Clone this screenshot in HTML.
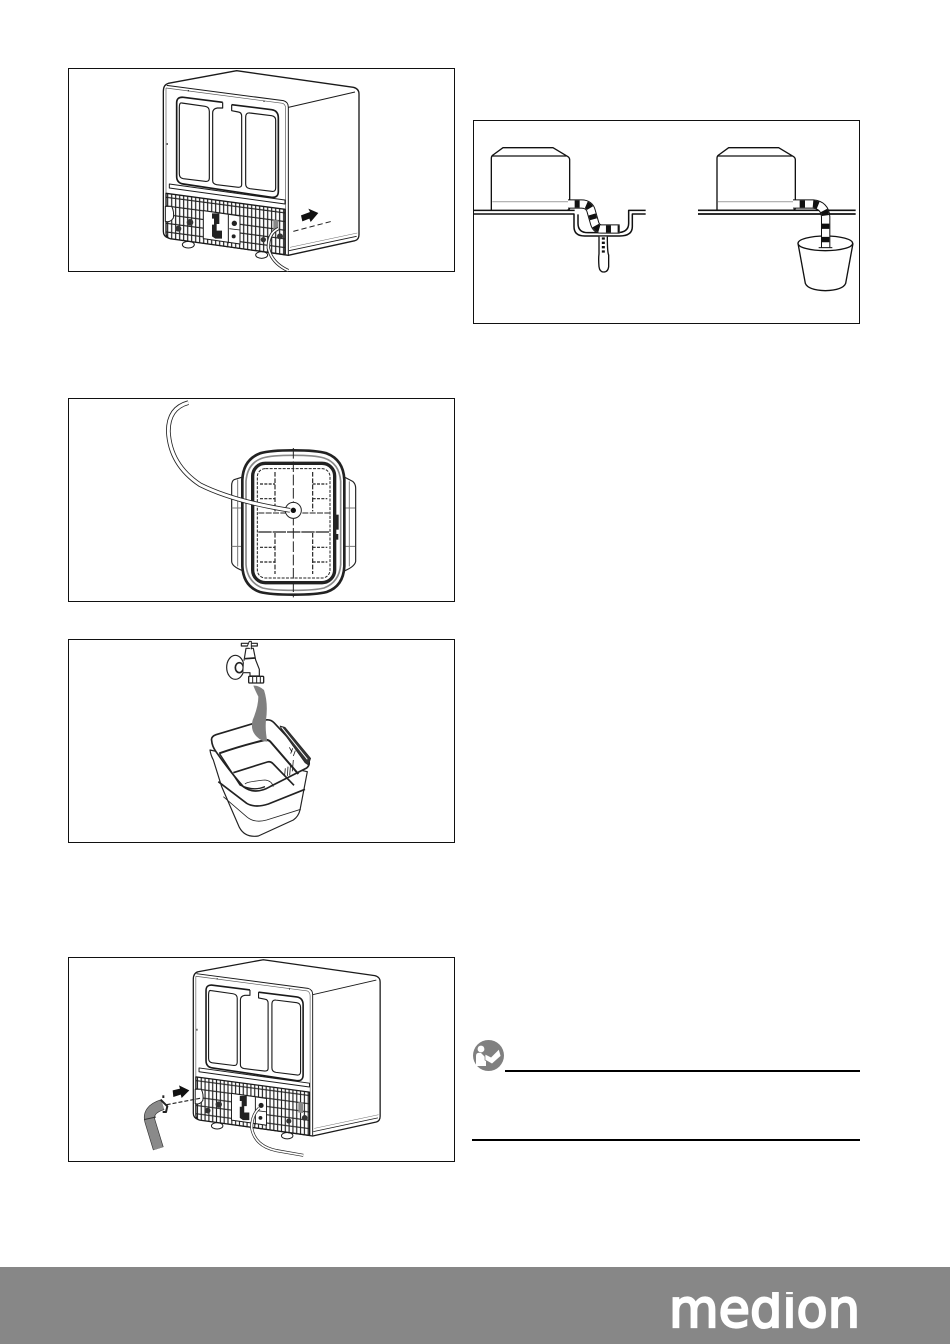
<!DOCTYPE html>
<html><head><meta charset="utf-8"><style>
html,body{margin:0;padding:0;background:#fff}
svg{display:block}
</style></head><body>
<svg width="950" height="1344" viewBox="0 0 950 1344" xmlns="http://www.w3.org/2000/svg">
<defs>
<clipPath id="logoclip"><rect x="660" y="1292" width="210" height="40"/></clipPath>
<pattern id="grid" width="24" height="26" patternUnits="userSpaceOnUse" patternTransform="translate(80 384) skewY(7.5)">
<rect width="24" height="26" fill="#fff"/>
<path d="M3 0V26M15 0V26" stroke="#1a1a1a" stroke-width="3.5"/>
<path d="M0 4H24" stroke="#222" stroke-width="3.5"/>
</pattern>
<g id="dryer" fill="none" stroke="#1a1a1a" stroke-linejoin="round">
<ellipse cx="145" cy="530" rx="18" ry="10" fill="#fff" stroke-width="3"/>
<ellipse cx="365" cy="561" rx="18" ry="10" fill="#fff" stroke-width="3"/>
<path d="M70 70Q70 50 85 46L290 8L640 58Q657 62 657 78V500Q657 515 645 518L445 562L85 510Q70 505 70 490Z" fill="#fff" stroke-width="4"/>
<path d="M80 52L430 98Q445 102 445 118V560" stroke-width="3"/>
<path d="M78 60L428 106Q437 110 437 122V558M78 60V505" stroke-width="2" stroke="#555"/>
<path d="M445 118L645 72" stroke-width="3"/>
<path d="M447 548L650 505" stroke-width="2.5"/>
<path d="M450 538L652 495" stroke-width="1.5" stroke="#666"/>
<path d="M248 103L130 88Q110 86 110 105V325Q110 345 130 348L395 388Q415 390 415 370V150Q415 128 395 125L275 110" stroke-width="5"/>
<path d="M125 105L195 115Q208 117 208 130V330Q208 342 195 340L130 332Q118 330 118 318V118Q118 103 125 105Z" stroke-width="3.5"/>
<path d="M248 103V120H232Q218 122 218 135V338Q218 348 230 350L295 358Q305 358 305 350V145Q305 133 295 132L275 128V110" stroke-width="3.5"/>
<path d="M330 135L395 143Q407 145 407 157V360Q407 372 395 370L330 362Q317 360 317 348V148Q317 133 330 135Z" stroke-width="3.5"/>
<path d="M88 348L435 396V408L88 360Z" stroke-width="3"/>
<path d="M78 376L435 424V560L90 512Q78 508 78 495Z" fill="url(#grid)" stroke-width="4"/>
<path d="M190 428L300 444V528L190 512Z" fill="#fff" stroke-width="3"/>
<path d="M265 440V526" stroke-width="3"/>
<path d="M216 436H238V468H230V488H246V512H226L216 505V470H222V452H216Z" fill="#222" stroke="none"/>
<circle cx="283" cy="466" r="8" fill="#222" stroke="none"/>
<circle cx="281" cy="505" r="6" fill="#222" stroke="none"/>
<path d="M268 482L300 486" stroke-width="2.5"/>
<circle cx="150" cy="463" r="10" fill="#333" stroke="none"/>
<circle cx="115" cy="482" r="9" fill="#333" stroke="none"/>
<path d="M76 415H95Q103 430 100 450Q90 465 76 460Z" fill="#fff" stroke-width="3"/>
<path d="M400 455L415 457V490L400 488Z" fill="#888" stroke="none"/>
<circle cx="420" cy="505" r="9" fill="#333" stroke="none"/>
<circle cx="370" cy="515" r="8" fill="#333" stroke="none"/>
<path d="M80 228h3" stroke-width="6"/>
<path d="M145 66v4M372 98v4" stroke-width="3"/>
</g>
</defs>

<!-- frames -->
<g fill="none" stroke="#111" stroke-width="1">
<rect x="68.5" y="68.5" width="386" height="203"/>
<rect x="473.5" y="120.5" width="386" height="203"/>
<rect x="68.5" y="398.5" width="386" height="203"/>
<rect x="68.5" y="639.5" width="386" height="203"/>
<rect x="68.5" y="957.5" width="386" height="204"/>
</g>

<!-- panel 1 -->
<g transform="translate(140 68) scale(.33333)">
<use href="#dryer"/>
<path d="M483 442L510 432L505 422L535 435L512 462L508 452L487 460Z" fill="#111"/>
<path d="M460 490L575 460" stroke="#222" stroke-width="3" stroke-dasharray="16 9" fill="none"/>
<path d="M415 482Q385 495 385 540Q395 585 445 608" fill="none" stroke="#222" stroke-width="10"/>
<path d="M415 482Q385 495 385 540Q395 585 445 608" fill="none" stroke="#fff" stroke-width="5"/>
</g>

<!-- panel 2 -->
<g transform="translate(473 130) scale(.33333)" fill="none" stroke="#111" stroke-linejoin="round">
<g id="mach2">
<path d="M55 240V85Q55 78 60 75L90 53H240L285 80Q290 83 290 90V232Q290 240 283 240" fill="#fff" stroke-width="4"/>
<path d="M58 78H280" stroke-width="3.5"/>
<path d="M58 215H288" stroke="#aaa" stroke-width="3.5"/>
</g>
<path d="M3 241H305M3 252H303V290Q303 318 335 318H440Q478 318 478 290V252H518M315 253V280Q315 308 345 308H430Q467 308 467 280V241H518" stroke-width="4.5"/>
<path d="M378 320V372Q376 385 378 410Q380 426 392 426Q405 426 407 410V375Q403 368 403 320" fill="#fff" stroke-width="4"/>
<path d="M391 322V372" stroke-width="9" stroke-dasharray="7 6"/>
<path d="M285 222H325Q350 222 355 245L365 280Q370 297 385 297H440" stroke-width="28"/>
<path d="M285 222H325Q350 222 355 245L365 280Q370 297 385 297H440" stroke="#fff" stroke-width="22"/>
<path d="M305 222H325Q350 222 355 245L365 280Q370 297 385 297H440" stroke="#111" stroke-width="22" stroke-dasharray="15 20"/>
<use href="#mach2" x="677"/>
<path d="M675 241H1148M675 252H1148" stroke-width="5"/>
<path d="M975 340L997 460Q1005 480 1057 482Q1110 480 1118 460L1140 340" fill="#fff" stroke-width="4"/>
<ellipse cx="1057" cy="340" rx="82" ry="22" fill="#fff" stroke-width="4"/>
<path d="M960 222H1020Q1055 225 1058 260V352" stroke-width="28"/>
<path d="M960 222H1020Q1055 225 1058 260V352" stroke="#fff" stroke-width="22"/>
<path d="M980 222H1020Q1055 225 1058 260V352" stroke="#111" stroke-width="22" stroke-dasharray="16 24"/>
<path d="M1037 353H1078" stroke="#111" stroke-width="3"/>
</g>

<!-- panel 3 -->
<g transform="translate(150 398) scale(.33333)" fill="none" stroke="#222" stroke-linejoin="round">
<path d="M275 238L252 245Q245 250 245 262V490Q245 505 278 518" stroke-width="3.5"/>
<path d="M263 245V505M245 330H275M245 445H275" stroke="#777" stroke-width="3"/>
<path d="M585 238L608 250Q617 258 617 270V490Q615 505 585 518" stroke-width="3.5"/>
<path d="M598 250V505M585 330H615M585 445H615" stroke="#777" stroke-width="3"/>
<path d="M430 157Q500 157 530 166Q580 185 583 245V505Q580 565 530 582Q500 590 430 590Q360 590 330 582Q280 565 277 505V245Q280 185 330 166Q360 157 430 157Z" fill="#fff" stroke-width="8"/>
<path d="M430 172Q495 172 522 180Q568 195 572 250V500Q568 552 522 570Q495 577 430 577Q365 577 338 570Q292 552 288 500V250Q292 195 338 180Q365 172 430 172Z" stroke="#888" stroke-width="5"/>
<rect x="308" y="196" width="246" height="358" rx="38" stroke-width="10"/>
<rect x="322" y="212" width="218" height="328" rx="24" stroke-width="3" stroke-dasharray="9 4"/>
<path d="M430 150V598" stroke-width="3" stroke-dasharray="32 8"/>
<path d="M375 222V340M488 222V340M375 405V528M488 405V528" stroke-width="3.5" stroke-dasharray="14 5"/>
<path d="M325 345H538" stroke-width="3" stroke-dasharray="18 4"/>
<path d="M325 402H538" stroke-width="3.5" stroke-dasharray="40 3"/>
<path d="M330 258H375M488 258H532M330 302H375M488 302H532M330 448H375M488 448H532M330 492H375M488 492H532" stroke-width="3.5" stroke-dasharray="9 4"/>
<path d="M561 350V395" stroke-width="10"/>
<path d="M561 408V425" stroke-width="8"/>
<circle cx="430" cy="337" r="24" fill="#fff" stroke-width="3"/>
<path d="M115 14Q55 30 55 100Q60 200 150 260Q250 310 420 337" stroke-width="14"/>
<path d="M115 14Q55 30 55 100Q60 200 150 260Q250 310 420 337" stroke="#fff" stroke-width="9"/>
<circle cx="430" cy="337" r="8" fill="#111" stroke="none"/>
</g>

<!-- panel 4 -->
<g transform="translate(190 640) scale(.33333)" fill="none" stroke="#222" stroke-linejoin="round" stroke-width="3">
<path d="M60 330Q62 345 70 360L95 440L148 562Q165 594 205 588L310 540Q325 530 330 510L352 395Z" fill="#fff" stroke-width="3.5"/>
<path d="M85 425L170 490Q195 505 235 492L345 448" stroke-width="5"/>
<path d="M100 470L172 532Q195 550 230 540L332 508" stroke-width="2.5"/>
<path d="M65 302Q62 290 78 284L222 241Q240 236 252 248L352 355Q364 372 350 384L240 440Q195 466 160 440Q120 395 78 335Q66 318 65 302Z" fill="#fff" stroke-width="5"/>
<path d="M88 340Q150 318 225 300Q235 298 242 306L325 402" stroke-width="6"/>
<path d="M88 340L150 435Q190 455 225 440" stroke-width="4"/>
<path d="M130 398L232 366Q242 363 250 372L312 436" stroke-width="5"/>
<path d="M165 432Q170 425 225 420Q245 422 250 440" stroke-width="2.5"/>
<path d="M270 258L285 262L362 355L355 375L345 368L275 270Z" fill="#333" stroke-width="2"/>
<path d="M275 262L352 358" stroke="#fff" stroke-width="3"/>
<path d="M298 322l8 14M286 385l-2 20M294 380l-2 28M302 370l-3 36M310 360l-3 34M316 332l-6 16M308 325l-6 16" stroke-width="2.5"/>
<path d="M190 137Q205 135 222 150Q235 190 228 240Q225 270 232 305Q215 305 200 290Q180 270 188 240Q205 200 205 170Q195 150 190 137Z" fill="#808080" stroke="none"/>
<ellipse cx="136" cy="82" rx="26" ry="36" fill="#fff" stroke-width="3.5"/>
<ellipse cx="148" cy="83" rx="12" ry="15" stroke-width="5"/>
<path d="M162 62L168 25H190L197 60L208 88V108H180V98H160" fill="#fff" stroke-width="3.5"/>
<path d="M165 56L195 54" stroke-width="5"/>
<path d="M154 10H202V18H154Z" fill="#fff" stroke-width="3.5"/>
<path d="M172 18L178 4H184V28" fill="#fff" stroke-width="3"/>
<rect x="176" y="109" width="45" height="20" rx="3" fill="#fff" stroke-width="4"/>
<path d="M188 110V128M200 110V128M211 110V128" stroke-width="3"/>
</g>

<!-- panel 5 -->
<g transform="translate(193.3 959.7) scale(.3183) translate(-70 -8)">
<use href="#dryer"/>
</g>
<g transform="translate(130 958) scale(.33333)" fill="none" stroke-linejoin="round">
<path d="M85 572L60 490Q50 455 98 440" stroke="#333" stroke-width="33"/>
<path d="M85 572L60 490Q50 455 98 440" stroke="#8a8a8a" stroke-width="29"/>
<path d="M42 485L78 477" stroke="#333" stroke-width="3"/>
<path d="M92 425L112 445L108 462L98 462" stroke="#222" stroke-width="6"/>
<path d="M100 412v8" stroke="#222" stroke-width="6"/>
<path d="M128 397L150 392L147 382L178 397L155 420L152 410L130 417Z" fill="#111"/>
<path d="M110 440L215 420" stroke="#222" stroke-width="3.5" stroke-dasharray="12 6"/>
<path d="M388 450Q365 470 365 510Q375 565 440 578L520 592" stroke="#222" stroke-width="9"/>
<path d="M388 450Q365 470 365 510Q375 565 440 578L520 592" stroke="#fff" stroke-width="5"/>
</g>

<!-- note icon -->
<circle cx="488.5" cy="1055.5" r="15.5" fill="#808080"/>
<circle cx="481" cy="1049" r="3.4" fill="#fff"/>
<path d="M476 1056Q476 1052 481 1053L486 1058V1066H476Z" fill="#fff"/>
<path d="M485 1054L491 1057L499 1049L501 1056L492 1064L485 1060Z" fill="#fff" stroke="#808080" stroke-width=".8"/>
<rect x="505" y="1070" width="355" height="2" fill="#000"/>
<rect x="472" y="1139" width="388" height="2" fill="#000"/>

<!-- footer -->
<rect x="0" y="1267" width="950" height="77" fill="#878787"/>
<text x="669" y="1327" clip-path="url(#logoclip)" font-family="'DejaVu Sans',sans-serif" font-size="53" fill="#fff" stroke="#fff" stroke-width="2.2" textLength="191" lengthAdjust="spacingAndGlyphs">medion</text>
</svg>
</body></html>
